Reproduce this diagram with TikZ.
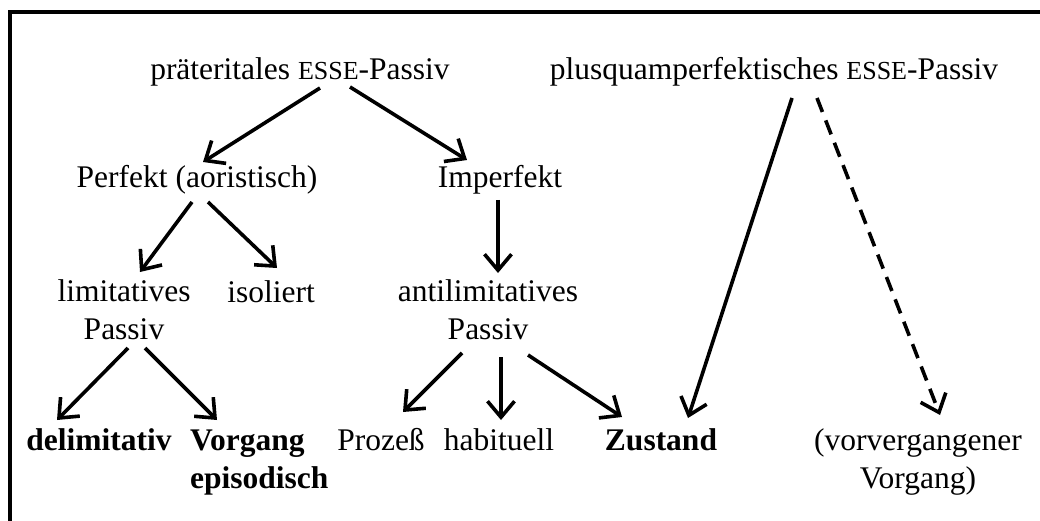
\documentclass[tikz,border=0pt]{standalone}
\usepackage{fontspec}
\setmainfont{Liberation Serif}
\usetikzlibrary{arrows.meta}
\newcommand{\esse}{{\fontsize{26}{26}\selectfont ESSE}}
\begin{document}
\begin{tikzpicture}[x=1pt,y=-1pt,
  lbl/.style={inner sep=0pt, anchor=base, font=\fontsize{31.5}{37.5}\selectfont, align=center},
  blbl/.style={lbl, font=\fontsize{31.5}{37.5}\selectfont\bfseries},
  arr/.style={line width=3.6pt, -{Straight Barb[length=16pt,width=27pt,line width=3.6pt]}},
  dasharr/.style={arr, dash pattern=on 15pt off 9pt}
]
\useasboundingbox (0,0) rectangle (1040,521);
\draw[line width=4pt] (1040,12) -- (9.5,12) -- (9.5,521);

\node[lbl] (pra) at (300,80) {präteritales \esse-Passiv};
\node[lbl] (plus) at (774,80) {plusquamperfektisches \esse-Passiv};
\node[lbl] (perf) at (197,188) {Perfekt (aoristisch)};
\node[lbl] (imp) at (500,188) {Imperfekt};
\node[lbl] (lim) at (124,339) {limitatives\\Passiv};
\node[lbl] (iso) at (271,302) {isoliert};
\node[lbl] (anti) at (488,339) {antilimitatives\\Passiv};
\node[blbl] (delim) at (99,450) {delimitativ};
\node[blbl, align=left, anchor=base west] (vorg) at (190,488) {Vorgang\\episodisch};
\node[lbl] (proz) at (381,450) {Prozeß};
\node[lbl] (hab) at (499,450) {habituell};
\node[blbl] (zus) at (661,450) {Zustand};
\node[lbl] (vorv) at (918,488) {(vorvergangener\\Vorgang)};

\draw[arr] ([shift={(20,8)}]pra.base) -- ([shift={(6,-26)}]perf.base);
\draw[arr] ([shift={(50,7)}]pra.base) -- ([shift={(-33,-28)}]imp.base);
\draw[arr] ([shift={(-5,14)}]perf.base) -- ([shift={(16,-67)}]lim.base);
\draw[arr] ([shift={(11,14)}]perf.base) -- ([shift={(6,-34)}]iso.base);
\draw[arr] ([shift={(-2,12)}]imp.base) -- ([shift={(10,-66)}]anti.base);
\draw[arr] ([shift={(4,9)}]lim.base) -- ([shift={(-42,-30)}]delim.base);
\draw[arr] ([shift={(21,9)}]lim.base) -- ([shift={(27,-68)}]vorg.base west);
\draw[arr] ([shift={(-26,14)}]anti.base) -- ([shift={(22,-38)}]proz.base);
\draw[arr] ([shift={(13,18)}]anti.base) -- ([shift={(2,-30)}]hab.base);
\draw[arr] ([shift={(40,16)}]anti.base) -- ([shift={(-39,-33)}]zus.base);
\draw[arr] ([shift={(18,18)}]plus.base) -- ([shift={(27,-32)}]zus.base);
\draw[dasharr] ([shift={(43,18)}]plus.base) -- ([shift={(22,-73)}]vorv.base);
\end{tikzpicture}
\end{document}
